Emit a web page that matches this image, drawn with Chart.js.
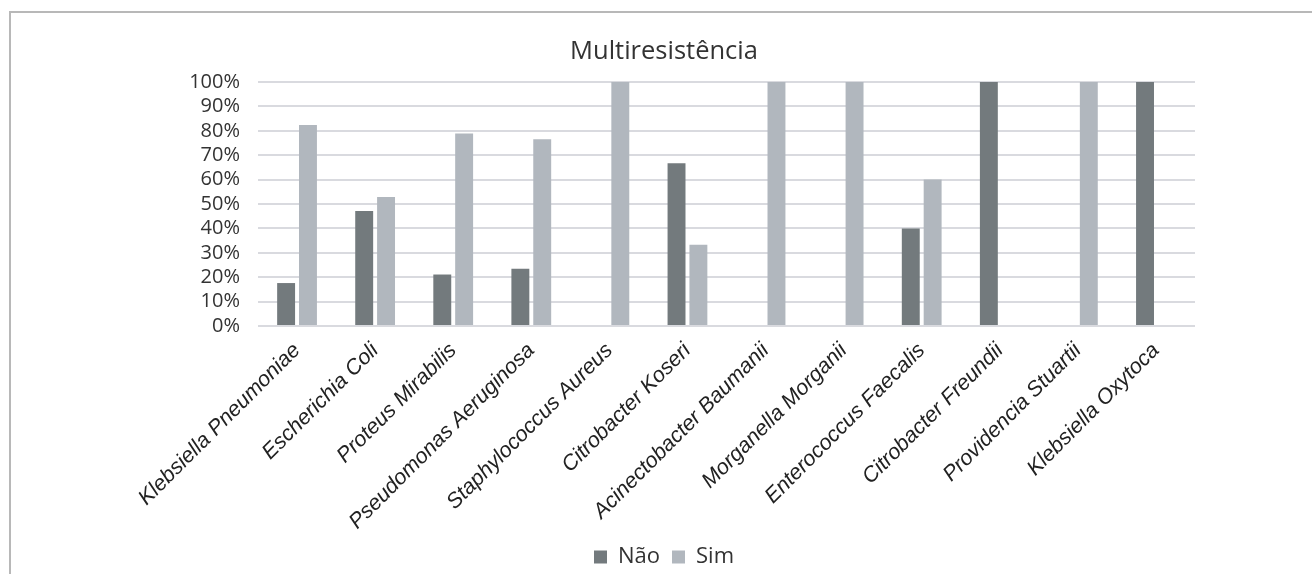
<!DOCTYPE html>
<html>
<head>
<meta charset="utf-8">
<script src="https://cdn.jsdelivr.net/npm/chart.js@4/dist/chart.umd.min.js"></script>
<style>
  html, body { margin: 0; padding: 0; background: #fff; overflow: hidden; width: 1312px; height: 574px; }
  #frame { position: absolute; left: 9px; top: 11px; width: 1320px; height: 600px;
           border-left: 2px solid #b8b8b8; border-top: 2px solid #b8b8b8; box-sizing: border-box; }
  #c { position: absolute; left: 0; top: 0; }
</style>
</head>
<body>
<div id="frame"></div>
<canvas id="c" width="1312" height="600"></canvas>
<script>
// Organisms and share of multiresistant isolates (fractions of 1)
const categories = [
  'Klebsiella Pneumoniae', 'Escherichia Coli', 'Proteus Mirabilis', 'Pseudomonas Aeruginosa',
  'Staphylococcus Aureus', 'Citrobacter Koseri', 'Acinectobacter Baumanii', 'Morganella Morganii',
  'Enterococcus Faecalis', 'Citrobacter Freundii', 'Providencia Stuartii', 'Klebsiella Oxytoca'
];
const naoValues = [0.176, 0.471, 0.211, 0.235, 0, 0.667, 0, 0, 0.40, 1.00, 0, 1.00];
const simValues = [0.824, 0.529, 0.789, 0.765, 1.00, 0.333, 1.00, 1.00, 0.60, 0, 1.00, 0];
const seriesNames = ['Não', 'Sim'];
const yTicks = [0, 0.1, 0.2, 0.3, 0.4, 0.5, 0.6, 0.7, 0.8, 0.9, 1.0];
const chartTitle = 'Multiresistência';

const UI_FONT = "'Open Sans', 'Noto Sans', sans-serif";
const LABEL_FONT = "'Liberation Sans', Arial, sans-serif";

new Chart(document.getElementById('c'), {
  type: 'bar',
  data: {
    labels: categories,
    datasets: [
      { label: seriesNames[0], data: naoValues, backgroundColor: '#737a7d' },
      { label: seriesNames[1], data: simValues, backgroundColor: '#b1b7be' }
    ]
  },
  options: {
    responsive: false,
    animation: false,
    devicePixelRatio: 1,
    categoryPercentage: 0.56,
    barPercentage: 0.82,
    layout: { padding: { left: 133, right: 117, top: 36, bottom: 22 } },
    plugins: {
      title: {
        display: true,
        text: chartTitle,
        color: '#333333',
        font: { family: UI_FONT, size: 25.5, weight: 'normal' },
        padding: { top: 0, bottom: 15.4 }
      },
      legend: {
        position: 'bottom',
        labels: {
          color: '#333333',
          font: { family: UI_FONT, size: 22 },
          boxWidth: 13,
          boxHeight: 13,
          padding: 12
        }
      },
      tooltip: { enabled: false }
    },
    scales: {
      x: {
        grid: { display: false, drawTicks: false },
        border: { display: false },
        ticks: {
          color: '#222222',
          font: { family: LABEL_FONT, size: 21.5, style: 'italic' },
          minRotation: 45,
          maxRotation: 45,
          autoSkip: false,
          padding: 12
        },
        afterFit: (s) => { s.height = 208; }
      },
      y: {
        min: 0,
        max: 1,
        afterBuildTicks: (s) => { s.ticks = yTicks.map(v => ({ value: v })); },
        grid: { color: '#d9dadf', lineWidth: 2, drawTicks: false },
        border: { display: false },
        ticks: {
          color: '#333333',
          font: { family: UI_FONT, size: 20 },
          padding: 18,
          autoSkip: false,
          callback: (v) => Math.round(v * 100) + '%'
        },
        afterFit: (s) => { s.width = 125; }
      }
    }
  }
});
</script>
</body>
</html>
